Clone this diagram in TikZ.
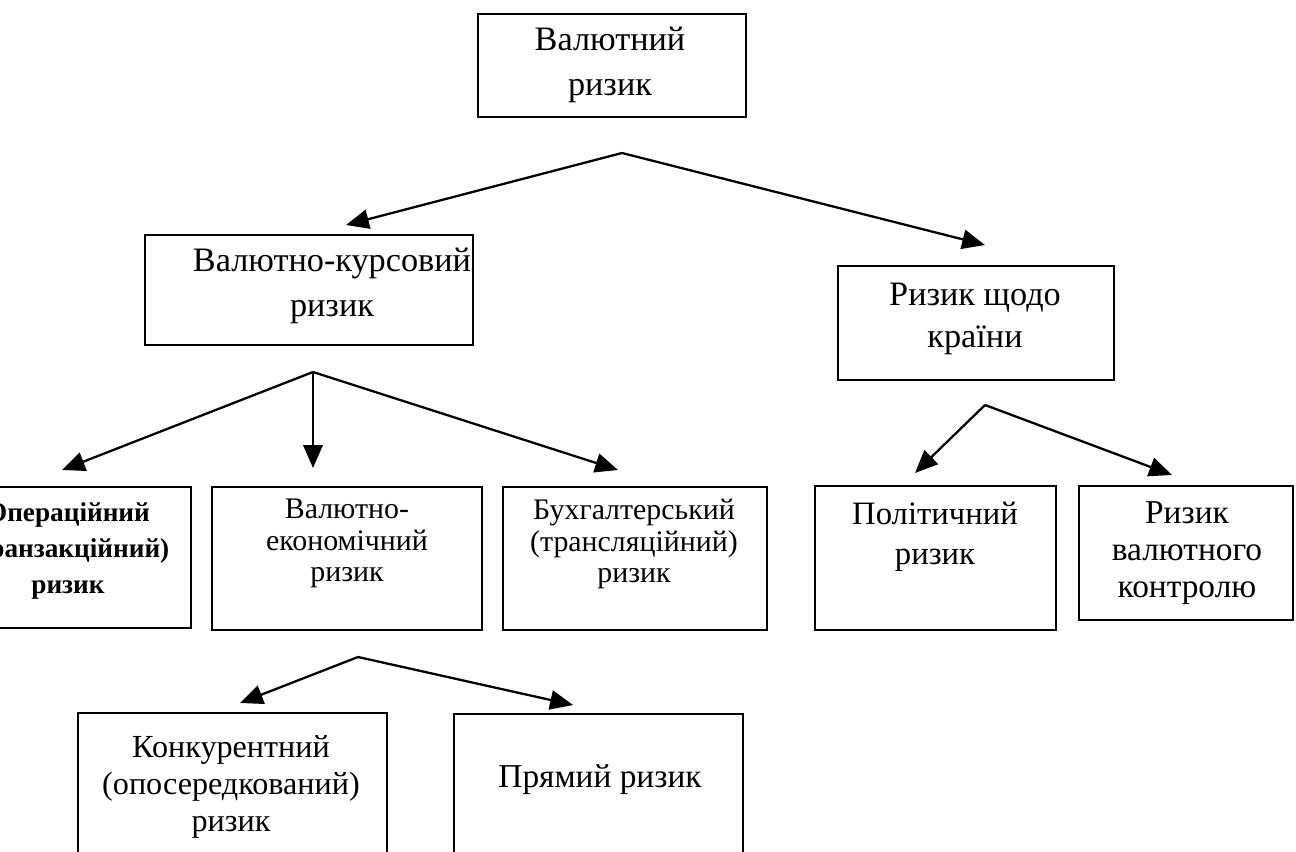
\documentclass[tikz,border=0pt]{standalone}
\usepackage{fontspec}
\setmainfont{Liberation Serif}
\usetikzlibrary{arrows.meta, positioning}

\tikzset{
  riskbox/.style={draw, line width=1.1pt, rectangle, inner sep=0pt},
  risktext/.style={align=center, inner sep=0pt},
  riskarrow/.style={line width=1.3pt, -{Triangle[length=13pt, width=11pt]}},
}
\newcommand{\fs}[2]{\fontsize{#1}{#2}\selectfont}

\begin{document}
\begin{tikzpicture}
\useasboundingbox (0,0) rectangle (25.92,-17.04);
\clip (0,0) rectangle (25.92,-17.04);

% boxes
\node[riskbox, minimum width=5.36cm, minimum height=2.06cm] (val) at (12.24,-1.31) {};
\node[riskbox, minimum width=6.56cm, minimum height=2.2cm] (kurs) at (6.18,-5.8) {};
\node[riskbox, minimum width=5.52cm, minimum height=2.28cm] (kraina) at (19.52,-6.46) {};
\node[riskbox, minimum width=4.92cm, minimum height=2.82cm] (oper) at (1.36,-11.15) {};
\node[riskbox, minimum width=5.4cm, minimum height=2.86cm] (ekon) at (6.94,-11.17) {};
\node[riskbox, minimum width=5.28cm, minimum height=2.86cm] (buh) at (12.7,-11.17) {};
\node[riskbox, minimum width=4.82cm, minimum height=2.88cm] (polit) at (18.71,-11.16) {};
\node[riskbox, minimum width=4.28cm, minimum height=2.68cm] (kontr) at (23.72,-11.06) {};
\node[riskbox, minimum width=6.18cm, minimum height=3.6cm, anchor=north] (konk) at (4.65,-14.24) {};
\node[riskbox, minimum width=5.78cm, minimum height=3.6cm, anchor=north] (pryam) at (11.97,-14.26) {};

% texts
\node[risktext, font=\fs{19.5}{25.5}] (val-t) at (12.2,-1.3) {Валютний\\ризик};
\node[risktext, font=\fs{19.5}{25.5}] (kurs-t) at (6.64,-5.72) {Валютно-курсовий\\ризик};
\node[risktext, font=\fs{19.5}{24}] (kraina-t) at (19.5,-6.38) {Ризик щодо\\країни};
\node[risktext, font=\bfseries\fs{15.5}{20.4}] (oper-t) at (1.36,-11.02) {Операційний\\(транзакційний)\\ризик};
\node[risktext, font=\fs{17}{17.9}] (ekon-t) at (6.94,-10.87) {Валютно-\\економічний\\ризик};
\node[risktext, font=\fs{17}{17.9}] (buh-t) at (12.68,-10.88) {Бухгалтерський\\(трансляційний)\\ризик};
\node[risktext, font=\fs{18.6}{22.7}] (polit-t) at (18.7,-10.74) {Політичний\\ризик};
\node[risktext, font=\fs{19}{21}] (kontr-t) at (23.74,-11.06) {Ризик\\валютного\\контролю};
\node[risktext, font=\fs{18.3}{21}] (konk-t) at (4.62,-15.74) {Конкурентний\\(опосередкований)\\ризик};
\node[risktext, font=\fs{19}{21}] (pryam-t) at (12.0,-15.6) {Прямий ризик};

% fork points and arrow ends
\coordinate (f1) at (12.44,-3.06);
\coordinate (t1a) at (6.92,-4.5);
\coordinate (t1b) at (19.7,-4.9);
\coordinate (f2) at (6.26,-7.44);
\coordinate (t2a) at (1.24,-9.4);
\coordinate (t2b) at (6.26,-9.36);
\coordinate (t2c) at (12.36,-9.4);
\coordinate (f3) at (19.7,-8.1);
\coordinate (t3a) at (18.3,-9.46);
\coordinate (t3b) at (23.44,-9.5);
\coordinate (f4) at (7.16,-13.14);
\coordinate (t4a) at (4.8,-14.06);
\coordinate (t4b) at (11.46,-14.1);

% arrows
\foreach \t in {t1a,t1b} \draw[riskarrow] (f1) -- (\t);
\foreach \t in {t2a,t2b,t2c} \draw[riskarrow] (f2) -- (\t);
\foreach \t in {t3a,t3b} \draw[riskarrow] (f3) -- (\t);
\foreach \t in {t4a,t4b} \draw[riskarrow] (f4) -- (\t);
\end{tikzpicture}
\end{document}
